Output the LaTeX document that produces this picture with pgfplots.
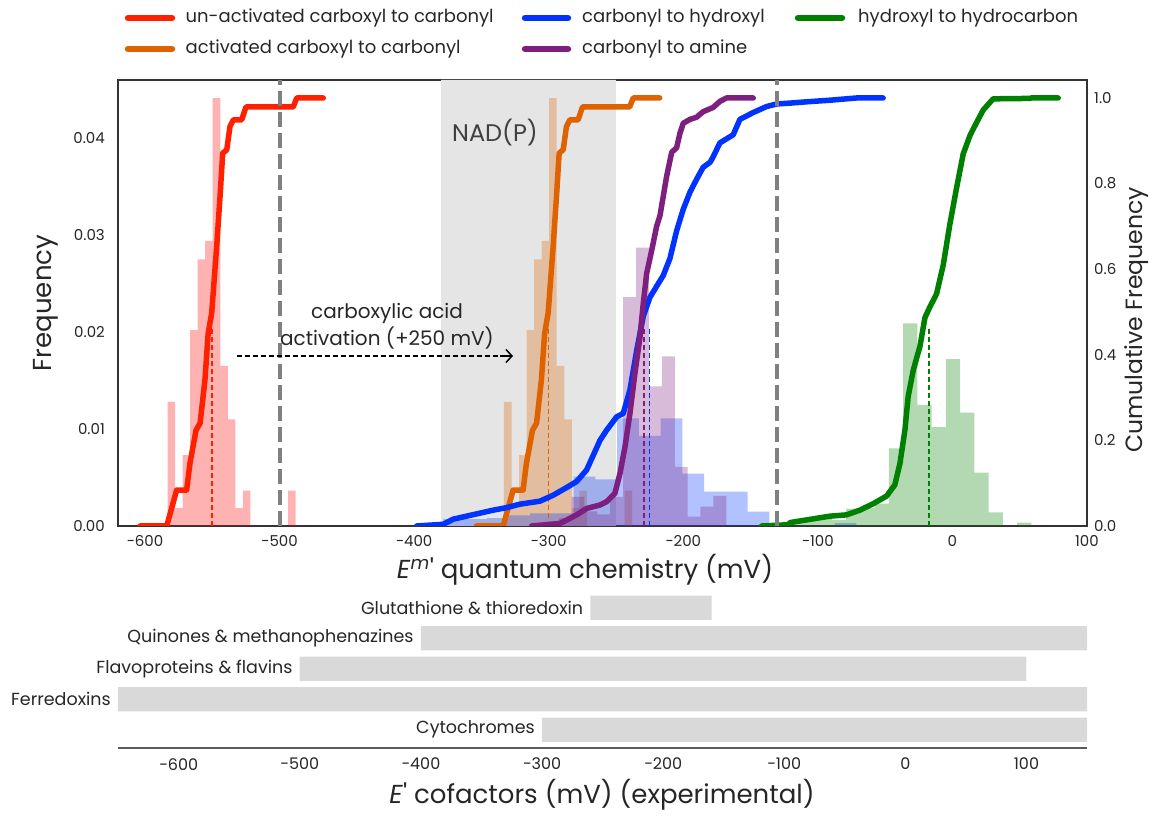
\documentclass[border=0pt]{standalone}
\usepackage{pgfplots}
\pgfplotsset{compat=1.18}
\usepackage{fontspec}
\setmainfont{Poppins}
\usetikzlibrary{arrows.meta}

\definecolor{redc}{RGB}{255,32,0}
\definecolor{redh}{RGB}{255,0,0}
\definecolor{orangec}{RGB}{222,98,0}
\definecolor{bluec}{RGB}{0,51,255}
\definecolor{purplec}{RGB}{126,30,126}
\definecolor{greenc}{RGB}{0,128,0}
\definecolor{txt}{RGB}{38,38,38}
\definecolor{framec}{RGB}{51,51,51}

\newcommand{\fs}[1]{\fontsize{#1}{1.2\dimexpr#1pt\relax}\selectfont}

\pgfplotsset{
  hist/.style={const plot, draw=none, fill=#1, fill opacity=0.3},
  cdf/.style={#1, line width=5.5pt, line join=round, line cap=round},
  med/.style={#1, line width=1.6pt, dash pattern=on 5pt off 3pt},
}

\begin{document}
\begin{tikzpicture}[x=1pt,y=1pt]
\useasboundingbox (0,0) rectangle (1157,815);

% ---------- upper panel, left axis: histograms ----------
\begin{axis}[at={(118pt,289pt)}, anchor=south west, scale only axis,
  width=969pt, height=446pt,
  xmin=-620, xmax=100, ymin=0, ymax=0.04598,
  axis line style={framec, line width=1.3pt},
  xtick={-600,-500,...,100},
  xticklabels={−600,−500,−400,−300,−200,−100,0,100},
  ytick={0,0.01,0.02,0.03,0.04},
  yticklabels={0.00,0.01,0.02,0.03,0.04},
  scaled y ticks=false,
  major tick length=0pt,
  tick label style={font=\fs{15}, text=txt, inner sep=0pt},
  xticklabel style={yshift=-9pt},
  yticklabel style={xshift=-13pt}]
% NAD(P) range
\addplot[draw=none, fill=black!10] coordinates {(-380,0) (-380,0.046) (-250,0.046) (-250,0)} \closedcycle;
\addplot[hist=redh] coordinates {(-583.2,0.0128) (-577.6,0.00185) (-572.0,0.0073) (-566.4,0.0202) (-560.8,0.0275) (-555.2,0.0294) (-549.6,0.0441) (-544.0,0.0165) (-538.4,0.011) (-532.8,0.00185) (-527.2,0.00364) (-521.6,0) (-516.0,0) (-510.4,0) (-504.8,0) (-499.2,0) (-493.6,0.00364) (-488.0,0.00364)} \closedcycle;
\addplot[hist=orangec] coordinates {(-333.2,0.0128) (-327.6,0.00185) (-322.0,0.0073) (-316.4,0.0202) (-310.8,0.0275) (-305.2,0.0294) (-299.6,0.0441) (-294.0,0.0165) (-288.4,0.011) (-282.8,0.00185) (-277.2,0.00364) (-271.6,0) (-266.0,0) (-260.4,0) (-254.8,0) (-249.2,0) (-243.6,0.00364) (-238.0,0.00364)} \closedcycle;
\addplot[hist=bluec] coordinates {(-378.3,0.0007) (-362.15,0.0007) (-346.0,0.0008) (-329.85,0.0011) (-313.7,0.0013) (-297.55,0.0013) (-281.4,0.0051) (-265.25,0.0048) (-249.1,0.0111) (-232.95,0.0093) (-216.8,0.0111) (-200.65,0.0054) (-184.5,0.00354) (-168.35,0.00354) (-152.2,0.00148) (-136.05,0.0003) (-119.9,0) (-103.75,0) (-87.6,0.0003) (-71.45,0.0003)} \closedcycle;
\addplot[hist=purplec] coordinates {(-292.6,0.0008) (-283.0,0.0030) (-273.4,0.0015) (-263.8,0.0012) (-254.3,0.0030) (-244.7,0.0236) (-235.1,0.0287) (-225.5,0.0144) (-215.9,0.0175) (-206.3,0.0061) (-196.8,0.00096) (-187.2,0.0020) (-177.6,0.0031) (-168.0,0.0031)} \closedcycle;
\addplot[hist=greenc] coordinates {(-121.4,0.0006) (-110.81,0.0006) (-100.22,0.0011) (-89.63,0.0006) (-79.04,0.0018) (-68.45,0.0019) (-57.86,0.0023) (-47.27,0.008) (-36.68,0.0209) (-26.09,0.0125) (-15.5,0.0102) (-4.91,0.0172) (5.68,0.0117) (16.27,0.0055) (26.86,0.0014) (37.45,0) (48.04,0.00034) (58.63,0.00034)} \closedcycle;
\end{axis}

% ---------- upper panel, right axis: cumulative curves ----------
\begin{axis}[at={(118pt,289pt)}, anchor=south west, scale only axis,
  width=969pt, height=446pt,
  xmin=-620, xmax=100, ymin=0, ymax=1.042,
  hide x axis, axis y line*=right,
  axis line style={draw=none},
  ytick={0,0.2,0.4,0.6,0.8,1.0},
  yticklabels={0.0,0.2,0.4,0.6,0.8,1.0},
  major tick length=0pt,
  tick label style={font=\fs{15}, text=txt, inner sep=0pt},
  yticklabel style={xshift=7pt}]
\addplot[med=redc] coordinates {(-550,0) (-550,0.465)};
\addplot[med=orangec] coordinates {(-300,0) (-300,0.465)};
\addplot[med=purplec] coordinates {(-229,0) (-229,0.465)};
\addplot[med=bluec] coordinates {(-225,0) (-225,0.465)};
\addplot[med=greenc] coordinates {(-17.5,0) (-17.5,0.465)};
\addplot[cdf=redc] coordinates {(-603.7,0) (-583.8,0) (-576.4,0.084) (-569,0.084) (-566.5,0.147) (-562,0.224) (-559,0.24) (-555.4,0.341) (-553,0.45) (-550.4,0.497) (-546.7,0.652) (-544.2,0.769) (-542.2,0.871) (-539.2,0.879) (-536.8,0.933) (-534.3,0.949) (-528.1,0.949) (-524.9,0.979) (-489.8,0.979) (-487.2,1.0) (-467.5,1.0)};
\addplot[cdf=orangec] coordinates {(-353.7,0) (-333.8,0) (-326.4,0.084) (-319,0.084) (-316.5,0.147) (-312,0.224) (-309,0.24) (-305.4,0.341) (-303,0.45) (-300.4,0.497) (-296.7,0.652) (-294.2,0.769) (-292.2,0.871) (-289.2,0.879) (-286.8,0.933) (-284.3,0.949) (-278.1,0.949) (-274.9,0.979) (-239.8,0.979) (-237.2,1.0) (-217.5,1.0)};
\addplot[cdf=bluec] coordinates {(-398.1,0) (-378.3,0.004) (-370.9,0.016) (-361.0,0.023) (-351.1,0.03) (-341.2,0.037) (-331.2,0.043) (-321.3,0.051) (-306.5,0.058) (-296.6,0.072) (-286.6,0.09) (-279.2,0.104) (-271.8,0.131) (-266.9,0.165) (-261.9,0.2) (-256.9,0.224) (-249.5,0.255) (-244.6,0.263) (-239.6,0.318) (-234.6,0.41) (-229.7,0.49) (-224.8,0.534) (-219.8,0.56) (-214.9,0.585) (-209.9,0.625) (-204.9,0.69) (-200.0,0.74) (-195.0,0.78) (-190.1,0.81) (-185.2,0.838) (-180,0.85) (-177.7,0.863) (-172.8,0.895) (-162.9,0.914) (-157.9,0.95) (-148.0,0.966) (-138.1,0.98) (-130.6,0.986) (-120.7,0.988) (-108.4,0.991) (-90,0.995) (-71.3,1.0) (-51.5,1.0)};
\addplot[cdf=purplec] coordinates {(-312.6,0) (-291.6,0.006) (-279.2,0.026) (-271.8,0.041) (-261.9,0.049) (-256.9,0.057) (-250.8,0.076) (-247.0,0.123) (-243.3,0.185) (-239.6,0.263) (-235.9,0.357) (-232.2,0.44) (-229.7,0.52) (-227.2,0.59) (-223.5,0.643) (-219.8,0.7) (-217.3,0.725) (-212.4,0.816) (-208.6,0.873) (-204.9,0.884) (-202.5,0.917) (-200.0,0.941) (-195.0,0.95) (-190.1,0.955) (-185.2,0.968) (-177.7,0.978) (-172.8,0.992) (-167.8,1.0) (-148.0,1.0)};
\addplot[cdf=greenc] coordinates {(-141.8,0) (-121.8,0.003) (-120.7,0.008) (-100.9,0.018) (-91.0,0.023) (-78.7,0.026) (-68.8,0.037) (-58.9,0.052) (-48.9,0.07) (-42.8,0.096) (-39.0,0.146) (-35.3,0.224) (-32.9,0.302) (-29.1,0.364) (-24.1,0.42) (-20.4,0.487) (-16.7,0.512) (-11.8,0.542) (-6.8,0.61) (-1.9,0.705) (3.1,0.79) (8.0,0.869) (13.0,0.912) (18.0,0.943) (22.9,0.972) (30.3,0.998) (57.6,0.999) (58.6,1.0) (78.6,1.0)};
% reference potentials
\addplot[gray, line width=4pt, dash pattern=on 15pt off 6pt] coordinates {(-500,0) (-500,1.042)};
\addplot[gray, line width=4pt, dash pattern=on 15pt off 6pt] coordinates {(-130,0) (-130,1.042)};
\end{axis}

% ---------- lower panel: cofactor ranges ----------
\begin{axis}[at={(118pt,67pt)}, anchor=south west, scale only axis,
  width=969pt, height=158.6pt,
  xmin=-650, xmax=150, ymin=-0.6, ymax=4.6,
  axis x line*=bottom, hide y axis,
  x axis line style={line width=2pt, black!65, -},
  xtick={-600,-500,...,100},
  xticklabels={−600,−500,−400,−300,−200,−100,0,100},
  major tick length=0pt,
  tick label style={font=\fs{16}, text=txt, inner sep=0pt},
  xticklabel style={yshift=-10pt},
  clip=false]
\addplot[draw=none, fill=black!15] coordinates {(-260,3.6) (-160,3.6) (-160,4.4) (-260,4.4) (-260,3.6)};
\addplot[draw=none, fill=black!15] coordinates {(-400,2.6) (150,2.6) (150,3.4) (-400,3.4) (-400,2.6)};
\addplot[draw=none, fill=black!15] coordinates {(-500,1.6) (100,1.6) (100,2.4) (-500,2.4) (-500,1.6)};
\addplot[draw=none, fill=black!15] coordinates {(-650,0.6) (150,0.6) (150,1.4) (-650,1.4) (-650,0.6)};
\addplot[draw=none, fill=black!15] coordinates {(-300,-0.4) (150,-0.4) (150,0.4) (-300,0.4) (-300,-0.4)};
\begin{scope}[every node/.style={anchor=east, inner sep=0pt, xshift=-7pt, font=\fs{17.5}, text=txt}]
\node at (axis cs:-260,4) {Glutathione \& thioredoxin};
\node at (axis cs:-400,3) {Quinones \& methanophenazines};
\node at (axis cs:-500,2) {Flavoproteins \& flavins};
\node at (axis cs:-650,1) {Ferredoxins};
\node at (axis cs:-300,0) {Cytochromes};
\end{scope}
\end{axis}

% ---------- annotations ----------
\draw[black, line width=1.5pt, dash pattern=on 5pt off 3pt] (237,459) -- (508,459);
\draw[black, line width=1.5pt, -{Straight Barb[length=6pt,width=13pt]}] (500,459) -- (513,459);
\node[font=\fontsize{20}{27}\selectfont, align=center, text=txt] at (387,488.5) {carboxylic acid\\activation (+250 mV)};
\node[font=\fs{24}, text=black!75] at (495,682) {NAD(P)};

% axis labels
\node[rotate=90, font=\fs{26}, text=txt] at (46,512) {Frequency};
\node[rotate=90, font=\fs{23.5}, text=txt] at (1137,495) {Cumulative Frequency};
\node[font=\fs{26}, text=txt] at (585,245) {\textit{E}\textsuperscript{\textit{m}}\textquotesingle{} quantum chemistry (mV)};
\node[font=\fs{26}, text=txt] at (602,20) {\textit{E}\textquotesingle{} cofactors (mV) (experimental)};

% legend
\begin{scope}[every node/.style={anchor=west, inner sep=0pt, font=\fs{18}, text=txt}]
\draw[redc, line width=6.5pt, line cap=round] (128,797) -- (172,797);
\node at (185.5,797) {un-activated carboxyl to carbonyl};
\draw[bluec, line width=6.5pt, line cap=round] (525,797) -- (568,797);
\node at (582,797) {carbonyl to hydroxyl};
\draw[greenc, line width=6.5pt, line cap=round] (798,797) -- (842,797);
\node at (858,797) {hydroxyl to hydrocarbon};
\draw[orangec, line width=6.5pt, line cap=round] (128,766) -- (172,766);
\node at (185.5,766) {activated carboxyl to carbonyl};
\draw[purplec, line width=6.5pt, line cap=round] (525,766) -- (568,766);
\node at (582,766) {carbonyl to amine};
\end{scope}
\end{tikzpicture}
\end{document}
